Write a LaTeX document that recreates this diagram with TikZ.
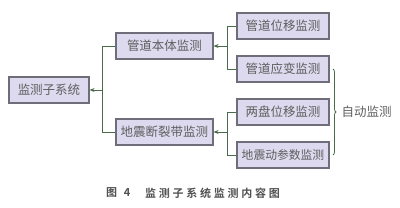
\documentclass[tikz,border=0pt]{standalone}
\usepackage{fontspec}
\newfontfamily\cjk{Noto Sans CJK SC}
\newfontfamily\cjkcap[LetterSpace=25]{Noto Sans CJK SC Bold}
\usetikzlibrary{arrows.meta,decorations.pathreplacing}
\definecolor{boxfill}{HTML}{DDD9EE}
\definecolor{boxline}{HTML}{6E6E7A}
\definecolor{linkgreen}{HTML}{4A6B4A}
\definecolor{textgray}{HTML}{5E5E5E}
\begin{document}
\begin{tikzpicture}[x=1pt,y=-1pt,
  box/.style={draw=boxline,fill=boxfill,line width=1.1pt,inner sep=0pt,
    minimum height=26pt,text=textgray,font=\cjk\fontsize{12.5}{12.5}\selectfont},
  conn/.style={draw=linkgreen,line width=0.8pt},
  tip/.style={conn,-{Stealth[length=5pt,width=4pt]}},
  captext/.style={anchor=west,inner sep=0pt,text=textgray!85!black,font=\cjkcap\fontsize{11}{11}\selectfont}]
  \useasboundingbox (0,0) rectangle (400,207);
  % Boxes
  \node[box,minimum width=80pt] (sys) at (49,90) {监测子系统};
  \node[box,minimum width=97pt] (pipe) at (164.5,46) {管道本体监测};
  \node[box,minimum width=97pt] (fault) at (164.5,132) {地震断裂带监测};
  \node[box,minimum width=92pt] (disp) at (283,26) {管道位移监测};
  \node[box,minimum width=92pt] (strain) at (283,69) {管道应变监测};
  \node[box,minimum width=92pt] (slip) at (283,112) {两盘位移监测};
  \node[box,minimum width=92pt,font=\cjk\fontsize{11.8}{12}\selectfont] (ground) at (283,155) {地震动参数监测};
  % Trunks
  \coordinate (t0) at (102,90);
  \coordinate (t1) at (227,46);
  \coordinate (t2) at (227,132);
  \draw[conn] (pipe.west) -| (t0);
  \draw[conn] (fault.west) -| (t0);
  \draw[tip] (t0) -- (sys.east);
  \draw[conn] (disp.west) -| (t1);
  \draw[conn] (strain.west) -| (t1);
  \draw[tip] (t1) -- (pipe.east);
  \draw[conn] (slip.west) -| (t2);
  \draw[conn] (ground.west) -| (t2);
  \draw[tip] (t2) -- (fault.east);
  % Brace - automatic monitoring
  \coordinate (b1) at (333,69);
  \coordinate (b2) at (333,155);
  \draw[linkgreen,line width=0.8pt,decorate,decoration={brace,amplitude=3pt}] (b1) -- (b2);
  \node[anchor=west,text=textgray,font=\cjk\fontsize{12.5}{12.5}\selectfont] (auto) at (338,112) {自动监测};
  % Caption
  \node[captext] (capnum) at (106,193) {图\hspace{0.6em}4};
  \node[captext] (captitle) at (145,193) {监测子系统监测内容图};
\end{tikzpicture}
\end{document}
